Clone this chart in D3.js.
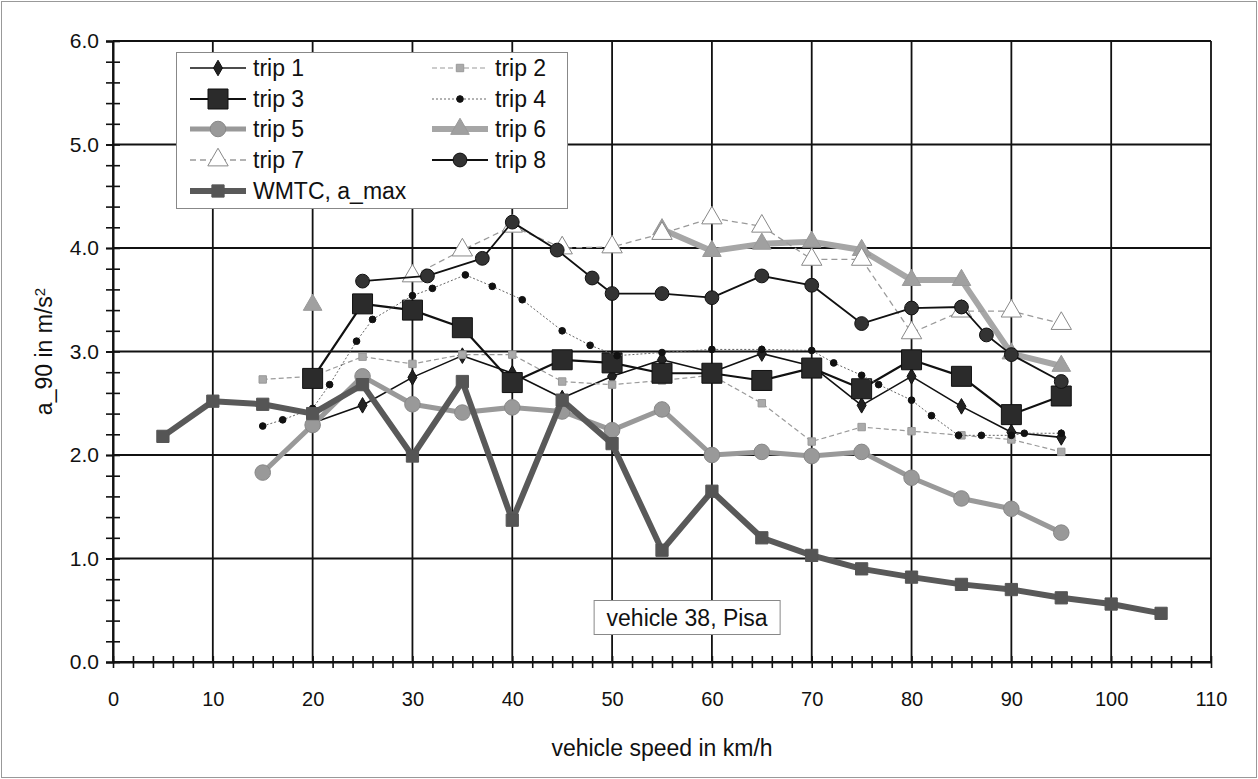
<!DOCTYPE html>
<html>
<head>
<meta charset="utf-8">
<script src="https://cdn.jsdelivr.net/npm/d3@7"></script>
<style>
body { margin: 0; background: #fff; }
text { font-family: Arial, "Liberation Sans", sans-serif; fill: #111; }
</style>
</head>
<body>
<svg id="chart" width="1258" height="779"></svg>
<script>
// values
var wmtcX = [5, 10, 15, 20, 25, 30, 35, 40, 45, 50, 55, 60, 65, 70, 75, 80, 85, 90, 95, 100, 105];
var wmtcY = [2.18, 2.52, 2.49, 2.40, 2.68, 1.99, 2.71, 1.37, 2.53, 2.11, 1.08, 1.65, 1.20, 1.03, 0.90, 0.82, 0.75, 0.70, 0.62, 0.56, 0.47];

var trip1X = [20, 25, 30, 35, 40, 45, 50, 55, 60, 65, 70, 75, 80, 85, 90, 95];
var trip1Y = [2.31, 2.48, 2.75, 2.96, 2.79, 2.55, 2.76, 2.92, 2.80, 2.98, 2.86, 2.48, 2.76, 2.47, 2.22, 2.17];

var trip2X = [15, 20, 25, 30, 35, 40, 45, 50, 55, 60, 65, 70, 75, 80, 85, 90, 95];
var trip2Y = [2.73, 2.76, 2.95, 2.88, 2.97, 2.97, 2.71, 2.68, 2.72, 2.77, 2.50, 2.13, 2.27, 2.23, 2.19, 2.15, 2.03];

var trip3X = [20, 25, 30, 35, 40, 45, 50, 55, 60, 65, 70, 75, 80, 85, 90, 95];
var trip3Y = [2.74, 3.46, 3.40, 3.23, 2.70, 2.92, 2.89, 2.79, 2.79, 2.72, 2.84, 2.64, 2.92, 2.76, 2.39, 2.57];

var trip4X = [15, 17, 20, 21.7, 24.4, 26, 30, 32, 35.3, 38, 41, 45, 47.8, 50.5, 55, 60, 65, 70, 72.2, 75, 76.7, 80, 82, 84.7, 87, 90, 91.3, 95];
var trip4Y = [2.28, 2.34, 2.45, 2.68, 3.10, 3.31, 3.54, 3.61, 3.74, 3.63, 3.50, 3.20, 3.06, 2.96, 2.99, 3.02, 3.02, 3.01, 2.89, 2.77, 2.68, 2.53, 2.38, 2.19, 2.19, 2.19, 2.21, 2.21];

var trip5X = [15, 20, 25, 30, 35, 40, 45, 50, 55, 60, 65, 70, 75, 80, 85, 90, 95];
var trip5Y = [1.83, 2.29, 2.76, 2.49, 2.41, 2.46, 2.42, 2.24, 2.44, 2.00, 2.03, 1.99, 2.03, 1.78, 1.58, 1.48, 1.25];

// trip 6 has no values between 20 and 55
var trip6X = [20, 25, 55, 60, 65, 70, 75, 80, 85, 90, 95];
var trip6Y = [3.45, null, 4.18, 3.97, 4.04, 4.06, 3.98, 3.69, 3.69, 2.98, 2.86];

var trip7X = [30, 35, 40, 45, 50, 55, 60, 65, 70, 75, 80, 85, 90, 95];
var trip7Y = [3.73, 3.98, 4.21, 4.00, 4.01, 4.14, 4.29, 4.21, 3.89, 3.89, 3.18, 3.39, 3.39, 3.27];

var trip8X = [25, 31.5, 37, 40, 44.5, 48, 50, 55, 60, 65, 70, 75, 80, 85, 87.5, 90, 95];
var trip8Y = [3.68, 3.73, 3.90, 4.25, 3.98, 3.71, 3.56, 3.56, 3.52, 3.73, 3.64, 3.27, 3.42, 3.43, 3.16, 2.97, 2.71];

var xTicks = d3.range(0, 111, 10);
var yTicks = d3.range(0, 6.01, 1);

drawChart();

function drawChart() {

var svgWidth = 1258, svgHeight = 779;
var mLeft = 113, mRight = 1211, mTop = 41, mBottom = 662;

var svg = d3.select("#chart");

var x = d3.scaleLinear().domain([0, 110]).range([mLeft, mRight]);
var y = d3.scaleLinear().domain([0, 6]).range([mBottom, mTop]);

// outer frame
svg.append("rect")
  .attr("x", 1.5).attr("y", 1.5)
  .attr("width", svgWidth - 3).attr("height", svgHeight - 3)
  .attr("fill", "#fff").attr("stroke", "#999").attr("stroke-width", 1);

// grid
var grid = svg.append("g").attr("class", "grid");
grid.selectAll(".vg").data(xTicks).enter().append("line")
  .attr("x1", function(d) { return x(d); }).attr("x2", function(d) { return x(d); })
  .attr("y1", mTop).attr("y2", mBottom)
  .attr("stroke", "#111").attr("stroke-width", 1.8);
grid.selectAll(".hg").data(yTicks).enter().append("line")
  .attr("x1", mLeft).attr("x2", mRight)
  .attr("y1", function(d) { return y(d); }).attr("y2", function(d) { return y(d); })
  .attr("stroke", "#111").attr("stroke-width", 1.8);

// x axis: labels, major and minor ticks (ticks cross the axis)
var xAxis = svg.append("g")
  .attr("transform", "translate(0," + mBottom + ")")
  .call(d3.axisBottom(x).tickValues(xTicks).tickSize(0).tickPadding(30).tickFormat(d3.format("d")));
xAxis.select(".domain").attr("stroke", "#111").attr("stroke-width", 2);
xAxis.selectAll("text").style("font-size", "20px").attr("fill", "#111");

svg.append("g")
  .attr("transform", "translate(0," + (mBottom - 6) + ")")
  .call(d3.axisBottom(x).tickValues(d3.range(0, 111, 2)).tickSize(12).tickFormat(""))
  .call(function(g) { g.select(".domain").remove(); })
  .selectAll("line").attr("stroke", "#111").attr("stroke-width", 1.6);

// y axis
var yAxis = svg.append("g")
  .attr("transform", "translate(" + mLeft + ",0)")
  .call(d3.axisLeft(y).tickValues(yTicks).tickSize(7).tickPadding(7).tickFormat(d3.format(".1f")));
yAxis.select(".domain").attr("stroke", "#111").attr("stroke-width", 2);
yAxis.selectAll("line").attr("stroke", "#111").attr("stroke-width", 1.8);
yAxis.selectAll("text").style("font-size", "21px").attr("fill", "#111");

svg.append("g")
  .attr("transform", "translate(" + (mLeft + 7) + ",0)")
  .call(d3.axisLeft(y).tickValues(d3.range(0, 6.01, 0.2)).tickSize(14).tickFormat(""))
  .call(function(g) { g.select(".domain").remove(); })
  .selectAll("line").attr("stroke", "#111").attr("stroke-width", 1.6);

// axis titles
svg.append("text")
  .attr("x", 662).attr("y", 756)
  .attr("text-anchor", "middle")
  .style("font-size", "23px")
  .text("vehicle speed in km/h");

var yTitle = svg.append("text")
  .attr("transform", "translate(52," + ((mTop + mBottom) / 2) + ") rotate(-90)")
  .attr("text-anchor", "middle")
  .style("font-size", "23px");
yTitle.append("tspan").text("a_90 in m/s");
yTitle.append("tspan").attr("dy", "-0.45em").style("font-size", "15px").text("2");

// series definitions
function pts(xs, ys) {
  return xs.map(function(d, i) { return {x: d, y: ys[i]}; });
}

var series = [
  {name: "trip 1", data: pts(trip1X, trip1Y), stroke: "#111", width: 1.6, dash: null, marker: "diamond", size: 70, fill: "#222", mstroke: "#111"},
  {name: "trip 2", data: pts(trip2X, trip2Y), stroke: "#9a9a9a", width: 1.2, dash: "5,3", marker: "square", size: 55, fill: "#aaa", mstroke: "#999"},
  {name: "trip 3", data: pts(trip3X, trip3Y), stroke: "#111", width: 2.2, dash: null, marker: "square", size: 400, fill: "#2b2b2b", mstroke: "#111"},
  {name: "trip 4", data: pts(trip4X, trip4Y), stroke: "#666", width: 1, dash: "2,2", marker: "circle", size: 35, fill: "#111", mstroke: "#111"},
  {name: "trip 5", data: pts(trip5X, trip5Y), stroke: "#999", width: 5, dash: null, marker: "circle", size: 190, fill: "#999", mstroke: "#888"},
  {name: "trip 6", data: pts(trip6X, trip6Y), stroke: "#a6a6a6", width: 6, dash: null, marker: "triangle", size: 150, fill: "#a0a0a0", mstroke: "#999"},
  {name: "trip 7", data: pts(trip7X, trip7Y), stroke: "#9a9a9a", width: 1.3, dash: "6,4", marker: "triangle", size: 180, fill: "#fff", mstroke: "#888"},
  {name: "trip 8", data: pts(trip8X, trip8Y), stroke: "#111", width: 1.8, dash: null, marker: "circle", size: 150, fill: "#333", mstroke: "#111"},
  {name: "WMTC, a_max", data: pts(wmtcX, wmtcY), stroke: "#595959", width: 6, dash: null, marker: "square", size: 150, fill: "#555", mstroke: "#555"}
];

var symbolTypes = {
  diamond: d3.symbolDiamond,
  square: d3.symbolSquare,
  circle: d3.symbolCircle,
  triangle: d3.symbolTriangle
};

var line = d3.line()
  .defined(function(d) { return d.y != null; })
  .x(function(d) { return x(d.x); })
  .y(function(d) { return y(d.y); });

var plot = svg.append("g").attr("class", "series");

series.forEach(function(s) {
  var g = plot.append("g");
  g.append("path")
    .attr("d", line(s.data))
    .attr("fill", "none")
    .attr("stroke", s.stroke)
    .attr("stroke-width", s.width)
    .attr("stroke-dasharray", s.dash)
    .attr("stroke-linejoin", "round");
  g.selectAll("path.m")
    .data(s.data.filter(function(d) { return d.y != null; }))
    .enter().append("path")
    .attr("class", "m")
    .attr("transform", function(d) { return "translate(" + x(d.x) + "," + y(d.y) + ")"; })
    .attr("d", d3.symbol().type(symbolTypes[s.marker]).size(s.size))
    .attr("fill", s.fill)
    .attr("stroke", s.mstroke)
    .attr("stroke-width", 1);
});

// legend
var legend = svg.append("g");
legend.append("rect")
  .attr("x", 176.5).attr("y", 52.5).attr("width", 391).attr("height", 156)
  .attr("fill", "#fff").attr("stroke", "#888").attr("stroke-width", 1);

var legendCols = [190, 432];
var legendRows = [68, 99, 129, 160, 191];

series.forEach(function(s, i) {
  var col = i < 8 ? i % 2 : 0;
  var row = i < 8 ? Math.floor(i / 2) : 4;
  var lx = legendCols[col], ly = legendRows[row];
  var item = legend.append("g").attr("transform", "translate(" + lx + "," + ly + ")");
  item.append("line")
    .attr("x1", 0).attr("x2", 56).attr("y1", 0).attr("y2", 0)
    .attr("stroke", s.stroke)
    .attr("stroke-width", s.width)
    .attr("stroke-dasharray", s.dash);
  item.append("path")
    .attr("transform", "translate(28,0)")
    .attr("d", d3.symbol().type(symbolTypes[s.marker]).size(s.size))
    .attr("fill", s.fill)
    .attr("stroke", s.mstroke)
    .attr("stroke-width", 1);
  item.append("text")
    .attr("x", 63).attr("y", 8)
    .style("font-size", "23px")
    .text(s.name);
});

// annotation box
svg.append("rect")
  .attr("x", x(48.2)).attr("y", 600.5).attr("width", 186).attr("height", 34)
  .attr("fill", "#fff").attr("stroke", "#888").attr("stroke-width", 1);
svg.append("text")
  .attr("x", x(48.2) + 93).attr("y", 626)
  .attr("text-anchor", "middle")
  .style("font-size", "23px")
  .text("vehicle 38, Pisa");
}
</script>
</body>
</html>
